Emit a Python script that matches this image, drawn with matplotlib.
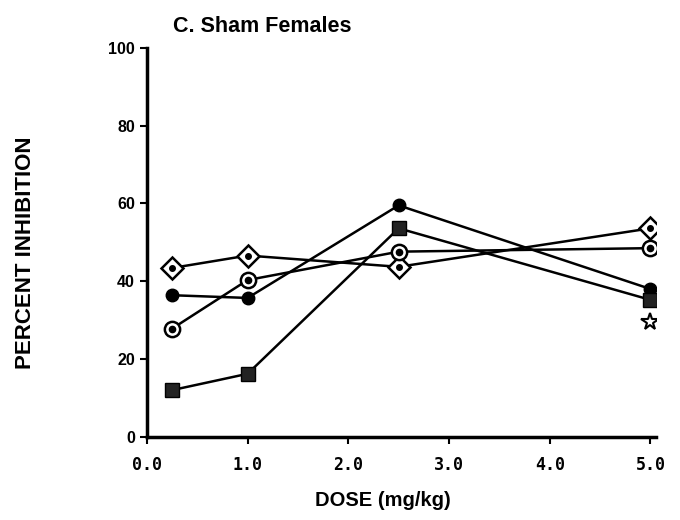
import matplotlib
matplotlib.use("Agg")
import matplotlib.pyplot as plt

dose = [0.25, 1.0, 2.5, 5.0]
diamond_vals = [43.4, 46.6, 43.7, 53.6]
filled_circle_vals = [36.4, 35.7, 59.5, 38.0]
open_circle_vals = [27.8, 40.3, 47.6, 48.5]
square_vals = [12.0, 16.2, 53.6, 35.2]
star_dose = [5.0]
star_vals = [29.6]

xticks = [0, 1, 2, 3, 4, 5]
xticklabels = ["0.0", "1.0", "2.0", "3.0", "4.0", "5.0"]
yticks = [0, 20, 40, 60, 80, 100]

plt.rcParams['font.family'] = ['Liberation Sans', 'DejaVu Sans']
plt.rcParams['font.weight'] = 'bold'

fig = plt.figure(figsize=(6.8, 5.2), dpi=100)
ax = fig.add_axes([0.216, 0.160, 0.748, 0.748])

lw = 1.8
ax.plot(dose, diamond_vals, color='black', lw=lw, marker='D', ms=11,
        mfc='white', mec='black', mew=1.8, zorder=3)
ax.plot(dose, diamond_vals, ls='none', marker='o', ms=4, color='black', zorder=4)

ax.plot(dose, filled_circle_vals, color='black', lw=lw, marker='o', ms=9,
        mfc='black', mec='black', zorder=3)

ax.plot(dose, open_circle_vals, color='black', lw=lw, marker='o', ms=11,
        mfc='white', mec='black', mew=1.8, zorder=3)
ax.plot(dose, open_circle_vals, ls='none', marker='o', ms=4.5, color='black', zorder=4)

ax.plot(dose, square_vals, color='black', lw=lw, marker='s', ms=10,
        mfc='#222222', mec='black', zorder=3)

ax.plot(star_dose, star_vals, ls='none', marker='*', ms=13, mfc='white',
        mec='black', mew=1.5, zorder=3)

ax.set_xlim(0, 5.05)
ax.set_ylim(0, 100)
ax.set_xticks(xticks)
ax.set_xticklabels(xticklabels)
ax.set_yticks(yticks)
for s in ['top', 'right']:
    ax.spines[s].set_visible(False)
ax.spines['left'].set_linewidth(2.5)
ax.spines['bottom'].set_linewidth(2.5)
ax.tick_params(axis='both', direction='out', width=1.5, length=5)
ax.tick_params(axis='x', pad=9)
for lab in ax.get_xticklabels():
    lab.set_fontfamily(['DejaVu Sans Mono'])
    lab.set_fontweight('bold')
    lab.set_fontsize(12)
for lab in ax.get_yticklabels():
    lab.set_fontweight('bold')
    lab.set_fontsize(11.5)

fig.text(383 / 680, 1 - 501 / 520, "DOSE (mg/kg)", fontsize=14.5,
         fontweight='bold', ha='center', va='center')
fig.text(0.038, 1 - 253 / 520, "PERCENT INHIBITION", rotation=90, fontsize=16,
         fontweight='bold', ha='center', va='center')
fig.text(0.254, 0.950, "C. Sham Females", fontsize=15.5, fontweight='bold',
         ha='left', va='center')

fig.savefig("out.png", dpi=100)
